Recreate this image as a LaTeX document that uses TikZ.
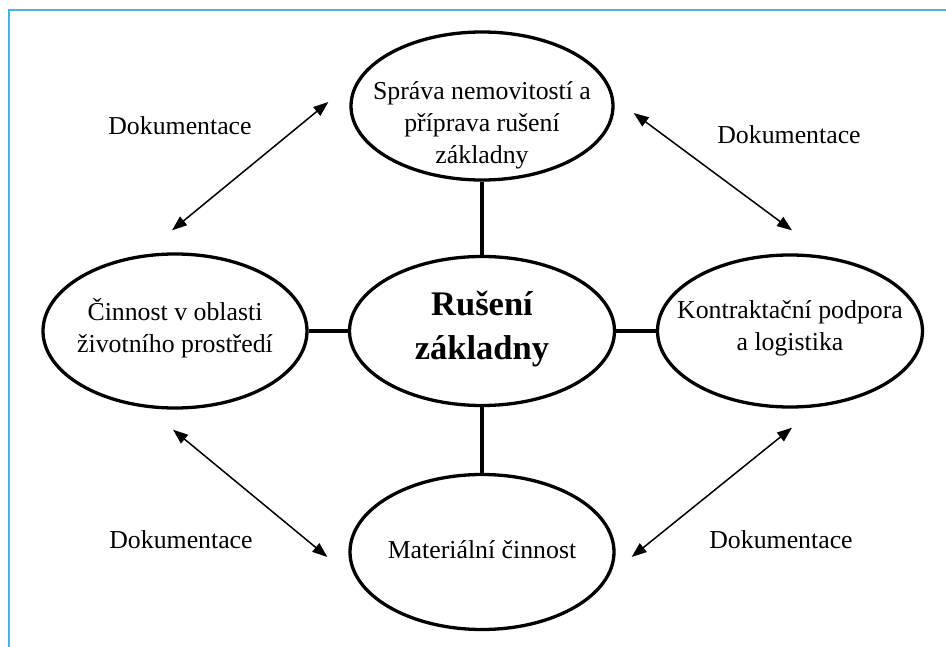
\documentclass[tikz,border=0pt]{standalone}
\usepackage{fontspec}
\setmainfont{Liberation Serif}
\usetikzlibrary{shapes.geometric,arrows.meta}
\definecolor{frameblue}{RGB}{72,178,230}
\begin{document}
\begin{tikzpicture}[x=1pt,y=-1pt,
  oval/.style={ellipse,draw,line width=3.3pt,inner sep=0pt},
  link/.style={line width=3.6pt},
  docarrow/.style={line width=1.5pt,{Triangle[length=15pt,width=11pt]}-{Triangle[length=15pt,width=11pt]}},
  lab/.style={font=\fontsize{25.8}{32}\selectfont,align=center,inner sep=0pt},
  boldlab/.style={font=\fontsize{34.5}{44}\selectfont\bfseries,align=center,inner sep=0pt},
  frame/.style={draw=frameblue,line width=2.4pt}
]
\useasboundingbox (0,0) rectangle (946,647);
\draw[frame] (9,648) -- (9,10) -- (947,10);

\node[oval,minimum width=262pt,minimum height=148pt,
      label={[lab,yshift=-19pt]center:{Správa nemovitostí a\\příprava rušení\\základny}}] (top) at (482,106) {};
\node[oval,minimum width=265pt,minimum height=149pt,
      label={[boldlab,yshift=2pt]center:{Rušení\\základny}}] (mid) at (482,331) {};
\node[oval,minimum width=264pt,minimum height=154pt,
      label={[lab,yshift=3pt]center:{Činnost v oblasti\\životního prostředí}}] (left) at (175,331) {};
\node[oval,minimum width=265pt,minimum height=152pt,
      label={[lab,yshift=3pt]center:{Kontraktační podpora\\a logistika}}] (right) at (790,331) {};
\node[oval,minimum width=264pt,minimum height=155pt,
      label={[lab,yshift=2pt]center:{Materiální činnost}}] (bottom) at (482,552) {};

\draw[link] (top.south) -- (mid.north);
\draw[link] (mid.south) -- (bottom.north);
\draw[link] (left.east) -- (mid.west);
\draw[link] (mid.east) -- (right.west);

\draw[docarrow] ([shift={(-3pt,22pt)}]left.north) -- ([shift={(-21pt,4pt)}]top.west);
\draw[docarrow] ([shift={(19pt,-7pt)}]top.east) -- ([shift={(2pt,23pt)}]right.north);
\draw[docarrow] ([shift={(-2pt,-20pt)}]left.south) -- ([shift={(-21pt,-5pt)}]bottom.west);
\draw[docarrow] ([shift={(16pt,-5pt)}]bottom.east) -- ([shift={(2pt,-19pt)}]right.south);

\node[lab] (d1) at (180,126) {Dokumentace};
\node[lab] (d2) at (789,135) {Dokumentace};
\node[lab] (d3) at (181,540) {Dokumentace};
\node[lab] (d4) at (781,540) {Dokumentace};
\end{tikzpicture}
\end{document}
